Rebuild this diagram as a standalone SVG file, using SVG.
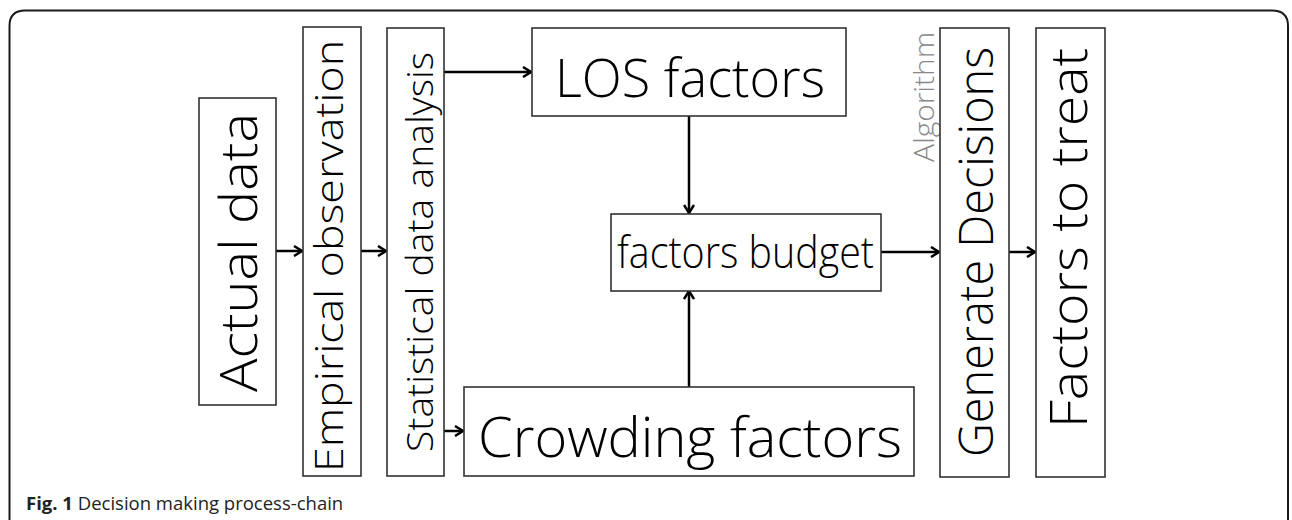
<svg xmlns="http://www.w3.org/2000/svg" width="1292" height="520" viewBox="0 0 1292 520">
<defs>
<style>
.box{fill:#fff;stroke:#333;stroke-width:1.6}
.t{font-family:"Open Sans","Noto Sans","Liberation Sans",sans-serif;font-weight:300;fill:#000}
.alg{font-family:"Open Sans","Noto Sans","Liberation Sans",sans-serif;font-weight:300;fill:#888}
.cap{font-family:"Open Sans","Noto Sans","Liberation Sans",sans-serif;font-size:18.5px;fill:#222}
.conn line{stroke:#000;stroke-width:2.5;marker-end:url(#ah)}
</style>
<marker id="ah" viewBox="0 0 12 12" refX="10" refY="6" markerWidth="12" markerHeight="12" markerUnits="userSpaceOnUse" orient="auto">
<polyline points="2,1 10,6 2,11" fill="none" stroke="#000" stroke-width="2.5"/>
</marker>
</defs>
<rect width="1292" height="520" fill="#fff"/>
<path d="M9.5,540 V26 Q9.5,10.5 25,10.5 H1272 Q1288,10.5 1288,26 V540" fill="none" stroke="#1a1a1a" stroke-width="2"/>

<g class="conn">
<line x1="276" y1="251" x2="302" y2="251"/>
<line x1="361" y1="251" x2="386" y2="251"/>
<line x1="444" y1="72" x2="531" y2="72"/>
<line x1="444" y1="431" x2="463" y2="431"/>
<line x1="689" y1="116" x2="689" y2="213"/>
<line x1="689" y1="387" x2="689" y2="291"/>
<line x1="881" y1="252" x2="939" y2="252"/>
<line x1="1009" y1="252" x2="1035" y2="252"/>
</g>

<g id="actual-data">
<rect class="box" x="199" y="98" width="77" height="307"/>
<text class="t" font-size="51" transform="translate(257,392) rotate(-90)" textLength="279" lengthAdjust="spacingAndGlyphs">Actual data</text>
</g>
<g id="empirical-observation">
<rect class="box" x="303" y="27" width="58" height="449"/>
<text class="t" font-size="38" transform="translate(343,472) rotate(-90)" textLength="432" lengthAdjust="spacingAndGlyphs">Empirical observation</text>
</g>
<g id="statistical-data-analysis">
<rect class="box" x="387" y="28" width="57" height="448"/>
<text class="t" font-size="36" transform="translate(433,452) rotate(-90)" textLength="400" lengthAdjust="spacingAndGlyphs">Statistical data analysis</text>
</g>
<g id="los-factors">
<rect class="box" x="532" y="28" width="314" height="88"/>
<text class="t" font-size="53" x="555" y="97" textLength="270" lengthAdjust="spacingAndGlyphs">LOS factors</text>
</g>
<g id="factors-budget">
<rect class="box" x="611" y="214" width="270" height="77"/>
<text class="t" font-size="45" x="617" y="268" textLength="257" lengthAdjust="spacingAndGlyphs">factors budget</text>
</g>
<g id="crowding-factors">
<rect class="box" x="464" y="387" width="450" height="89"/>
<text class="t" font-size="55" x="478" y="457" textLength="424" lengthAdjust="spacingAndGlyphs">Crowding factors</text>
</g>
<g id="algorithm-label">
<text class="alg" font-size="28" transform="translate(934,162) rotate(-90)" textLength="130" lengthAdjust="spacingAndGlyphs">Algorithm</text>
</g>
<g id="generate-decisions">
<rect class="box" x="940" y="28" width="69" height="449"/>
<text class="t" font-size="47" transform="translate(993,457) rotate(-90)" textLength="410" lengthAdjust="spacingAndGlyphs">Generate Decisions</text>
</g>
<g id="factors-to-treat">
<rect class="box" x="1036" y="28" width="69" height="449"/>
<text class="t" font-size="52" transform="translate(1087,428) rotate(-90)" textLength="380" lengthAdjust="spacingAndGlyphs">Factors to treat</text>
</g>
<text class="cap" x="26" y="510"><tspan font-weight="700">Fig. 1</tspan> Decision making process-chain</text>
</svg>
